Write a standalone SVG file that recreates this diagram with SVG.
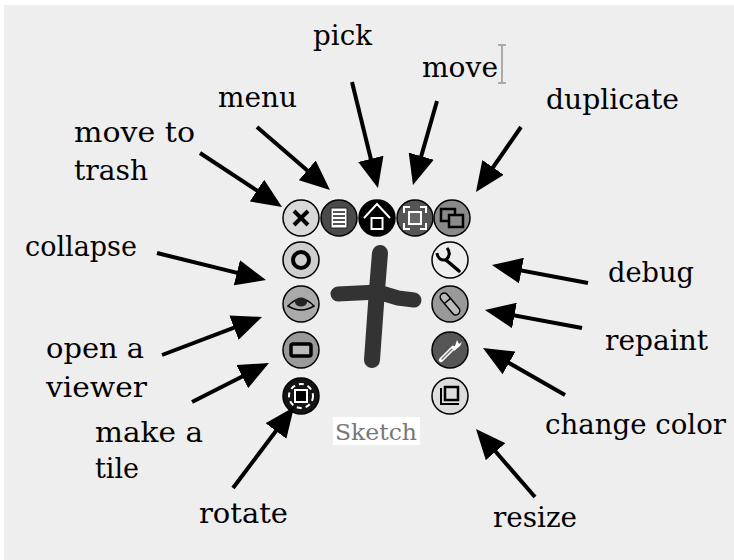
<svg xmlns="http://www.w3.org/2000/svg" width="734" height="560" viewBox="0 0 734 560">
  <style>
    .lbl { font-family: "DejaVu Serif", "Liberation Serif", serif; font-size: 27px; fill: #000; }
    .sk  { font-family: "DejaVu Serif", "Liberation Serif", serif; font-size: 22px; fill: #777; }
    .ring { stroke: #000; stroke-width: 1.5; }
    .arrow { stroke: #000; stroke-width: 4; fill: none; marker-end: url(#head); }
  </style>
  <defs>
    <marker id="head" markerUnits="userSpaceOnUse" markerWidth="30" markerHeight="26" refX="15" refY="13" orient="auto">
      <path d="M0,0 L30,13 L0,26 Z" fill="#000"/>
    </marker>
  </defs>

  <!-- backdrop -->
  <rect width="734" height="560" fill="#fff"/>
  <rect x="4" y="5" width="730" height="555" fill="#eeeeee"/>

  <!-- text cursor beside "move" -->
  <path d="M498,45 H506 M502,45 V83 M498,83 H506" stroke="#aaa" stroke-width="2" fill="none"/>

  <!-- the sketched cross -->
  <g id="sketch">
    <path d="M380,253 L377,290 L372,360" stroke="#333" stroke-width="16" stroke-linecap="round" stroke-linejoin="round" fill="none"/>
    <path d="M338,294 L378,292 L398,298 L414,300" stroke="#333" stroke-width="15" stroke-linecap="round" stroke-linejoin="round" fill="none"/>
    <rect x="333" y="417" width="87" height="28" fill="#fff"/>
    <text class="sk" x="335" y="440" textLength="82" lengthAdjust="spacingAndGlyphs">Sketch</text>
  </g>

  <!-- halo handles: top row -->
  <g id="trash" transform="translate(301,218)">
    <circle r="18" fill="#d9d9d9" class="ring"/>
    <path d="M-7,-7 L7,7 M7,-7 L-7,7" stroke="#000" stroke-width="4"/>
  </g>
  <g id="menu" transform="translate(339,218)">
    <circle r="18" fill="#4a4a4a" class="ring"/>
    <rect x="-8" y="-10" width="16" height="20" fill="#fff" stroke="#222" stroke-width="1"/>
    <path d="M-6,-6 H6 M-6,-2 H6 M-6,2 H6 M-6,6 H6" stroke="#555" stroke-width="2"/>
  </g>
  <g id="pick" transform="translate(377,218)">
    <circle r="18" fill="#000" class="ring"/>
    <path d="M-13,0 L0,-14 L13,0" stroke="#fff" stroke-width="2" fill="none"/>
    <rect x="-5.5" y="0" width="11" height="11" fill="#000" stroke="#fff" stroke-width="2"/>
  </g>
  <g id="move" transform="translate(415,218)">
    <circle r="18" fill="#555" class="ring"/>
    <path d="M-11,-5 V-11 H-5 M5,-11 H11 V-5 M11,5 V11 H5 M-5,11 H-11 V5" stroke="#fff" stroke-width="2" fill="none"/>
    <rect x="-6" y="-6" width="12" height="12" fill="#666" stroke="#fff" stroke-width="2"/>
  </g>
  <g id="duplicate" transform="translate(452,218)">
    <circle r="18" fill="#8a8a8a" class="ring"/>
    <rect x="-11" y="-9" width="14" height="12" fill="none" stroke="#000" stroke-width="2.5"/>
    <rect x="-3" y="-3" width="14" height="12" fill="#8a8a8a" stroke="#000" stroke-width="2.5"/>
  </g>

  <!-- left column -->
  <g id="collapse" transform="translate(301,260)">
    <circle r="18" fill="#cfcfcf" class="ring"/>
    <circle r="8" fill="none" stroke="#000" stroke-width="4"/>
  </g>
  <g id="viewer" transform="translate(301,304)">
    <circle r="18" fill="#aaa" class="ring"/>
    <path d="M-13,2 Q0,-12 13,2 Q0,10 -13,2 Z" fill="none" stroke="#000" stroke-width="1.5"/>
    <ellipse cx="0" cy="-2" rx="6" ry="4.5" fill="#222"/>
  </g>
  <g id="tile" transform="translate(301,350)">
    <circle r="18" fill="#9a9a9a" class="ring"/>
    <rect x="-10" y="-6" width="20" height="12" rx="2" fill="#bbb" stroke="#000" stroke-width="3.5"/>
  </g>
  <g id="rotate" transform="translate(301,396)">
    <circle r="18" fill="#141414" class="ring"/>
    <circle r="12" fill="none" stroke="#fff" stroke-width="2" stroke-dasharray="5 4"/>
    <rect x="-6" y="-6" width="12" height="12" fill="#000" stroke="#fff" stroke-width="2"/>
  </g>

  <!-- right column -->
  <g id="debug" transform="translate(450,260)">
    <circle r="18" fill="#eee" class="ring"/>
    <path d="M-13,-7 Q-12,1 -4,0 Q2,-6 -3,-12" stroke="#000" stroke-width="3" fill="none"/>
    <path d="M-4,0 L9,11" stroke="#000" stroke-width="3.5" stroke-linecap="round"/>
  </g>
  <g id="repaint" transform="translate(450,304)">
    <circle r="18" fill="#999" class="ring"/>
    <g transform="rotate(50)">
      <rect x="-13" y="-4" width="26" height="8" rx="4" fill="#bbb" stroke="#000" stroke-width="1.5"/>
      <path d="M-4,-4 V4" stroke="#000" stroke-width="1.5"/>
    </g>
  </g>
  <g id="color" transform="translate(450,350)">
    <circle r="18" fill="#555" class="ring"/>
    <path d="M-9,10 L3,-2" stroke="#fff" stroke-width="4.5" stroke-linecap="round"/>
    <path d="M-8,9 L2,-1" stroke="#777" stroke-width="1.5" stroke-linecap="round"/>
    <path d="M1,-3 L5,-4 L7,-10 L9,-6 L12,-8 L10,-4 L4,1 Z" fill="#fff"/>
  </g>
  <g id="resize" transform="translate(450,396)">
    <circle r="18" fill="#ddd" class="ring"/>
    <rect x="-5" y="-9" width="13" height="13" fill="none" stroke="#000" stroke-width="2.5"/>
    <path d="M-9,-8 V8 H9" stroke="#000" stroke-width="2" fill="none"/>
  </g>

  <!-- pointers from captions to handles -->
  <g id="connectors">
    <path class="arrow" d="M200,153 L269.5,198.8"/>
    <path class="arrow" d="M257,127 L318.6,180.2"/>
    <path class="arrow" d="M352,82 L374.4,173.4"/>
    <path class="arrow" d="M437,101 L417.1,170.6"/>
    <path class="arrow" d="M521,127 L484.5,179.7"/>
    <path class="arrow" d="M157,253 L251.4,276.4"/>
    <path class="arrow" d="M162,355 L248,322.3"/>
    <path class="arrow" d="M192,402 L255.6,369.8"/>
    <path class="arrow" d="M233,488 L285,419"/>
    <path class="arrow" d="M535,497 L485.8,440.3"/>
    <path class="arrow" d="M588,283 L506.7,267.8"/>
    <path class="arrow" d="M582,328 L499.7,312.7"/>
    <path class="arrow" d="M565,395 L496,355.5"/>
  </g>

  <!-- captions -->
  <g id="captions">
    <text class="lbl" x="313" y="45" textLength="59" lengthAdjust="spacingAndGlyphs">pick</text>
    <text class="lbl" x="422" y="77" textLength="76" lengthAdjust="spacingAndGlyphs">move</text>
    <text class="lbl" x="218" y="107" textLength="79" lengthAdjust="spacingAndGlyphs">menu</text>
    <text class="lbl" x="546" y="109" textLength="133" lengthAdjust="spacingAndGlyphs">duplicate</text>
    <text class="lbl" x="74" y="142" textLength="121" lengthAdjust="spacingAndGlyphs">move to</text>
    <text class="lbl" x="74" y="180" textLength="74" lengthAdjust="spacingAndGlyphs">trash</text>
    <text class="lbl" x="25" y="256" textLength="112" lengthAdjust="spacingAndGlyphs">collapse</text>
    <text class="lbl" x="608" y="282" textLength="86" lengthAdjust="spacingAndGlyphs">debug</text>
    <text class="lbl" x="605" y="350" textLength="103" lengthAdjust="spacingAndGlyphs">repaint</text>
    <text class="lbl" x="46" y="358" textLength="98" lengthAdjust="spacingAndGlyphs">open a</text>
    <text class="lbl" x="46" y="397" textLength="101" lengthAdjust="spacingAndGlyphs">viewer</text>
    <text class="lbl" x="545" y="434" textLength="181" lengthAdjust="spacingAndGlyphs">change color</text>
    <text class="lbl" x="95" y="442" textLength="108" lengthAdjust="spacingAndGlyphs">make a</text>
    <text class="lbl" x="95" y="478">tile</text>
    <text class="lbl" x="199" y="523" textLength="89" lengthAdjust="spacingAndGlyphs">rotate</text>
    <text class="lbl" x="493" y="527" textLength="84" lengthAdjust="spacingAndGlyphs">resize</text>
  </g>
</svg>
